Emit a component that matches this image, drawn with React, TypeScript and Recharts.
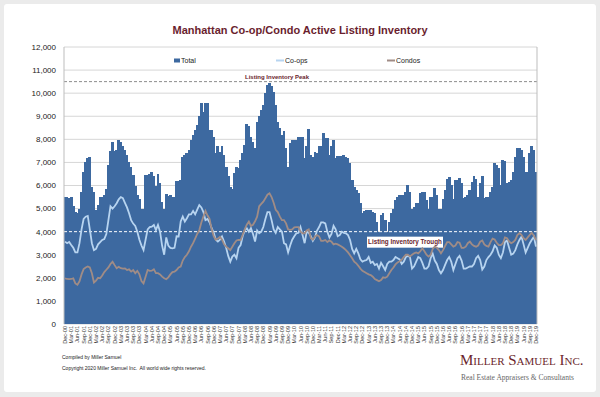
import {
  Bar,
  CartesianGrid,
  ComposedChart,
  Line,
  ReferenceLine,
  XAxis,
  YAxis,
} from "recharts";

const MONTHS = ["Jan", "Feb", "Mar", "Apr", "May", "Jun", "Jul", "Aug", "Sep", "Oct", "Nov", "Dec"];

// Dec-00 .. Dec-19, one label per month
const labels: string[] = ["Dec-00"];
for (let y = 1; y <= 19; y++) {
  for (const m of MONTHS) labels.push(`${m}-${String(y).padStart(2, "0")}`);
}

const total = [
  5500, 5500, 5450, 5500, 5100, 4850, 4800, 5000, 5700, 6600, 7000, 7200,
  7250, 5950, 5700, 4950, 5150, 5500, 5500, 5600, 5850, 6900, 7500, 7900,
  7500, 7550, 7950, 7900, 7700, 7550, 7300, 7000, 6800, 6450, 6000, 5600,
  5400, 5000, 5000, 6450, 6450, 6500, 6600, 6400, 6000, 6500, 6100, 5300,
  5000, 5650, 5550, 5600, 5500, 5500, 6200, 6200, 6240, 7250, 7300, 7400,
  7540, 7980, 8190, 8400, 8630, 8990, 9570, 9200, 9570, 9570, 8400, 8400,
  8120, 7400, 7720, 7470, 7720, 7330, 6820, 6390, 5950, 5840, 6530, 6790,
  6750, 7100, 7400, 7760, 8670, 8580, 8120, 7900, 7620, 8770, 8990, 9280,
  9490, 10000, 10360, 10450, 10290, 10070, 9490, 8770, 8480, 8190, 8340, 7620,
  6820, 7830, 7980, 7980, 7980, 8120, 8120, 8120, 7180, 7690, 8440, 7330,
  7250, 7470, 7400, 7690, 7690, 8270, 8050, 8050, 7330, 7720, 7980, 7180,
  7280, 7280, 7280, 7330, 7250, 7180, 6970, 6240, 5950, 5810, 5660, 5230,
  4800, 4910, 4940, 4940, 4940, 4870, 4800, 4440, 4000, 4730, 4800, 4500,
  4000, 4440, 4800, 5000, 5380, 5520, 5590, 5590, 5590, 5740, 6030, 5740,
  5000, 5090, 5230, 5230, 5660, 5740, 5700, 5380, 5000, 5520, 5520, 5880,
  5590, 5000, 5000, 5400, 5810, 6270, 6360, 6030, 5400, 6240, 6240, 6320,
  6100, 5450, 5520, 5590, 5810, 6170, 6390, 6270, 5520, 6100, 6390, 5450,
  5520, 5520, 5740, 5950, 6970, 6900, 6750, 6030, 7110, 7040, 6100, 6170,
  6240, 6600, 7250, 7620, 7620, 7540, 7250, 6600, 6600, 7400, 7690, 7540,
  6600,
];

const coops = [
  3570, 3500, 3550, 3420, 3300, 3100, 3100, 3500, 4100, 4550, 4650, 4680,
  4100, 3500, 3200, 3250, 3450, 3550, 3640, 3680, 3900, 4500, 5100, 5000,
  5100, 5230, 5400, 5500, 5450, 5250, 5050, 4800, 4500, 4350, 4250, 4000,
  3650, 3400, 3200, 3650, 4100, 4200, 4220, 4290, 4070, 4290, 4000, 3400,
  3000, 3750, 3400, 3300, 3280, 3300, 3800, 3790, 4440, 4650, 4440, 4580,
  4750, 4750, 4900, 4750, 4950, 5150, 5050, 4850, 4500, 4550, 4400, 4150,
  3950, 3650, 3570, 3650, 3790, 3570, 3300, 2950, 2700, 2920, 3000, 2850,
  3300, 3420, 3800, 4050, 4150, 4000, 4150, 3900, 3570, 4050, 3930, 4000,
  4200, 4550, 4850, 4850, 4500, 4100, 3950, 4200, 4100, 4000, 3500, 3450,
  3100, 3400, 3650, 3800, 3930, 3950, 4200, 3850, 3500, 4000, 3950, 3800,
  3600, 3750, 4050, 4200, 4400, 4400, 4360, 4000, 3750, 3900, 4250, 4100,
  3800, 3850, 4000, 3950, 3930, 3850, 3640, 3250, 3060, 3250, 3060, 2800,
  2700, 2750, 2770, 2900, 2650, 2700, 2550, 2600, 2400, 2650, 2500, 2340,
  2600, 2700, 2700, 2770, 2900, 2850, 2800, 2600, 2700, 2900, 2950, 2900,
  2400, 2500, 2700, 2900, 2850, 2650, 2400, 2400, 2500, 2850, 3050, 2750,
  2600, 2340, 2200, 2340, 2560, 2770, 2900, 2700, 2340, 2600, 2850, 2950,
  2750, 2400, 2400, 2450, 2490, 2490, 2600, 2850, 2950, 2770, 2360, 2490,
  2770, 2900, 3000, 3150, 3400, 3300, 3000, 2850, 3100, 3550, 3620, 3300,
  3000, 3050, 3200, 3450, 3640, 3780, 3450, 3100, 3300, 3500, 3650, 3780,
  3350,
];

const condos = [
  1980, 1950, 1940, 1950, 1980, 1760, 1700, 1850, 2150, 2380, 2450, 2490,
  2450, 2200, 1800, 1880, 2000, 1980, 2100, 2250, 2350, 2450, 2600, 2700,
  2550, 2420, 2480, 2420, 2400, 2410, 2340, 2370, 2270, 2340, 2200, 2300,
  2150, 1860, 1760, 2050, 2340, 2300, 2310, 2370, 2200, 2200, 2150, 2050,
  1980, 1940, 2020, 2150, 2250, 2270, 2340, 2450, 2490, 2750, 2900, 3000,
  3150, 3350, 3500, 3700, 3900, 4070, 4400, 4650, 4900, 4700, 4550, 4100,
  3800, 3650, 3700, 3780, 3650, 3450, 3350, 3280, 3200, 3350, 3500, 3620,
  3640, 3640, 3860, 4100, 4300, 4440, 4250, 4300, 4450, 4650, 5100, 5200,
  5300, 5450, 5600, 5660, 5500, 5250, 4950, 4850, 4650, 4500, 4500, 4360,
  4100, 4080, 4100, 4190, 4200, 4200, 4000, 3930, 3930, 4050, 4100, 3720,
  3650, 3780, 3850, 3800, 3600, 3600, 3640, 3550, 3620, 3570, 3450, 3480,
  3450, 3400, 3350, 3280, 3200, 3100, 2980, 2850, 2700, 2630, 2520, 2400,
  2300, 2250, 2200, 2150, 2120, 2050, 1950, 1900, 1850, 1900, 2020, 2000,
  2050, 2200, 2340, 2450, 2580, 2670, 2720, 2780, 2900, 3000, 3000, 2930,
  3000, 3060, 3100, 3060, 3150, 3280, 3150, 3000, 2920, 3000, 3250, 3350,
  3300, 3200, 3060, 3200, 3380, 3550, 3550, 3450, 3350, 3400, 3550, 3520,
  3300, 3300, 3350, 3500, 3570, 3450, 3380, 3350, 3400, 3570, 3620, 3450,
  3380, 3350, 3550, 3700, 3660, 3520, 3420, 3420, 3500, 3750, 3720, 3580,
  3500, 3550, 3640, 3850, 3930, 3860, 3720, 3640, 3750, 3860, 3950, 3820,
  3640,
];

const yTicks = [0, 1000, 2000, 3000, 4000, 5000, 6000, 7000, 8000, 9000, 10000, 11000, 12000];
const PEAK = 10500;
const TROUGH = 4000;

const data = labels.map((month, i) => ({
  month,
  total: total[i],
  coops: coops[i],
  condos: condos[i],
}));

const BAR = "#3d69a0";
const COOP = "#b7d4f0";
const CONDO = "#a08c86";
const MAROON = "#6a1e2e";
const FONT = "'Liberation Sans', Arial, sans-serif";

const fmt = (v: number) => v.toLocaleString("en-US");

function MonthTick({ x, y, payload }: any) {
  return (
    <text
      x={x}
      y={y}
      dy={2}
      transform={`rotate(-90 ${x} ${y})`}
      textAnchor="end"
      fontSize={5.5}
      fontFamily={FONT}
      fill="#333"
    >
      {payload.value}
    </text>
  );
}

// bars touch each other; widen by a hair so no seams show between them
function SolidBar({ x, y, width, height }: any) {
  if (!height) return null;
  return (
    <rect
      x={x - 0.4}
      y={y}
      width={width + 0.8}
      height={height}
      fill={BAR}
      shapeRendering="crispEdges"
    />
  );
}

function PeakLabel({ viewBox }: any) {
  return (
    <text
      x={viewBox.x + 213}
      y={viewBox.y - 3}
      textAnchor="middle"
      fontSize={6}
      fontWeight="bold"
      fontFamily={FONT}
      fill={MAROON}
    >
      Listing Inventory Peak
    </text>
  );
}

function TroughLabel({ viewBox }: any) {
  const x = viewBox.x + 303;
  const y = viewBox.y + 5;
  return (
    <g>
      <rect x={x} y={y} width={76} height={11} fill="#fff" />
      <text
        x={x + 38}
        y={y + 7.8}
        textAnchor="middle"
        fontSize={6.3}
        fontWeight="bold"
        fontFamily={FONT}
        fill={MAROON}
      >
        Listing Inventory Trough
      </text>
    </g>
  );
}

export default function App() {
  const axisTick = { fontSize: 8, fill: "#222", fontFamily: FONT };
  return (
    <div
      style={{
        position: "absolute",
        left: 0,
        top: 0,
        width: 600,
        height: 397,
        background: "#ebebeb",
        fontFamily: FONT,
      }}
    >
      <div
        style={{
          position: "absolute",
          left: 4,
          top: 4,
          width: 592,
          height: 388,
          background: "#fff",
          borderRadius: 3,
        }}
      />

      {/* CHART */}
      <div style={{ position: "absolute", left: 0, top: 0 }}>
        <ComposedChart
          width={600}
          height={397}
          data={data}
          barCategoryGap={0}
          barGap={0}
          margin={{ top: 47, right: 8, bottom: 43, left: 8 }}
        >
          <CartesianGrid yAxisId="left" vertical={false} stroke="#d6d6d6" />
          <XAxis
            dataKey="month"
            interval={2}
            axisLine={false}
            tickLine={false}
            tickSize={0}
            tickMargin={2}
            height={30}
            tick={<MonthTick />}
          />
          <YAxis
            yAxisId="left"
            domain={[0, 12000]}
            ticks={yTicks}
            tickFormatter={fmt}
            tickLine={false}
            axisLine={{ stroke: "#bdbdbd" }}
            width={56}
            tick={axisTick}
          />
          <YAxis
            yAxisId="right"
            orientation="right"
            domain={[0, 12000]}
            ticks={yTicks}
            tickFormatter={fmt}
            tickLine={false}
            axisLine={{ stroke: "#bdbdbd" }}
            width={55}
            tick={axisTick}
          />
          <ReferenceLine
            yAxisId="left"
            y={PEAK}
            stroke="#8c8c8c"
            strokeDasharray="3 2"
            label={(p: any) => <PeakLabel {...p} />}
          />
          <Bar
            yAxisId="left"
            dataKey="total"
            name="Total"
            fill={BAR}
            shape={(p: any) => <SolidBar {...p} />}
            isAnimationActive={false}
          />
          <ReferenceLine
            yAxisId="left"
            y={TROUGH}
            stroke="#ffffff"
            strokeDasharray="3 2"
            label={(p: any) => <TroughLabel {...p} />}
          />
          <Line
            yAxisId="left"
            dataKey="coops"
            name="Co-ops"
            stroke={COOP}
            strokeWidth={1.8}
            dot={false}
            isAnimationActive={false}
          />
          <Line
            yAxisId="left"
            dataKey="condos"
            name="Condos"
            stroke={CONDO}
            strokeWidth={1.8}
            dot={false}
            isAnimationActive={false}
          />
        </ComposedChart>
      </div>

      {/* TITLE, LEGEND, FOOTER */}
      <svg
        width={600}
        height={397}
        style={{ position: "absolute", left: 0, top: 0, pointerEvents: "none" }}
      >
        <text
          x={300}
          y={34}
          textAnchor="middle"
          fontSize={11}
          fontWeight="bold"
          fontFamily={FONT}
          fill={MAROON}
        >
          Manhattan Co-op/Condo Active Listing Inventory
        </text>

        <g fontSize={7} fontFamily={FONT} fill="#222">
          <rect x={174} y={58.5} width={6} height={4} fill={BAR} />
          <text x={181} y={63}>Total</text>
          <line x1={276} x2={284} y1={60.5} y2={60.5} stroke={COOP} strokeWidth={2} />
          <text x={285} y={63}>Co-ops</text>
          <line x1={387} x2={395} y1={60.5} y2={60.5} stroke={CONDO} strokeWidth={2} />
          <text x={396} y={63}>Condos</text>
        </g>

        <g fontSize={5} fontFamily={FONT} fill="#222">
          <text x={62} y={359}>Compiled by Miller Samuel</text>
          <text x={62} y={370} xmlSpace="preserve">
            Copyright 2020 Miller Samuel Inc.  All world wide rights reserved.
          </text>
        </g>

        <text
          x={460}
          y={365}
          fontSize={15}
          fontFamily="'Liberation Serif', 'Times New Roman', serif"
          fill="#6b1f2c"
          style={{ fontVariant: "small-caps" }}
        >
          Miller Samuel Inc.
        </text>
        <text
          x={461}
          y={380}
          fontSize={7.5}
          fontFamily="'Liberation Serif', 'Times New Roman', serif"
          fill="#666"
        >
          Real Estate Appraisers &amp; Consultants
        </text>
      </svg>
    </div>
  );
}
